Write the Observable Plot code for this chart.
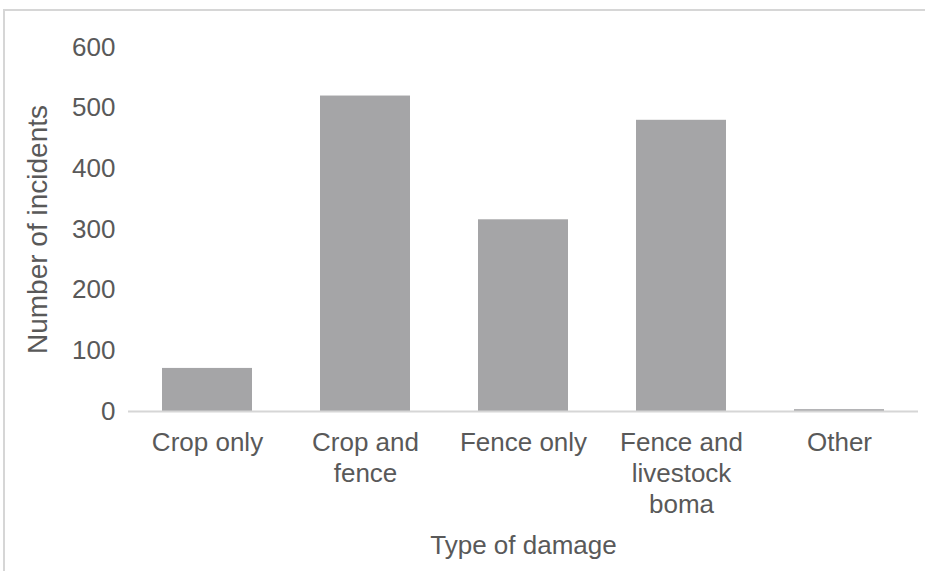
<!DOCTYPE html>
<html>
<head>
<meta charset="utf-8">
<script src="https://cdn.jsdelivr.net/npm/d3@7"></script>
<script src="https://cdn.jsdelivr.net/npm/@observablehq/plot@0.6"></script>
<style>
  html, body { margin: 0; padding: 0; background: #fff; }
  #wrap { position: relative; width: 925px; height: 571px; overflow: hidden; }
  #border { position: absolute; left: 3px; top: 9px; width: 940px; height: 600px;
            border-top: 2px solid #d6d6d6; border-left: 2px solid #d6d6d6; pointer-events: none; }
</style>
</head>
<body>
<div id="wrap"><div id="border"></div></div>
<script>
const categories = ["Crop only", "Crop and fence", "Fence only", "Fence and livestock boma", "Other"];
const tickLabels = ["Crop only", "Crop and\nfence", "Fence only", "Fence and\nlivestock\nboma", "Other"];
const incidents = [71, 520, 316, 480, 3];
const yTicks = [0, 100, 200, 300, 400, 500, 600];
const xTitle = "Type of damage";
const yTitle = "Number of incidents";

const data = categories.map((c, i) => ({category: c, value: incidents[i]}));
const labelOf = new Map(categories.map((c, i) => [c, tickLabels[i]]));

const textColor = "#595959";
const chart = Plot.plot({
  width: 925,
  height: 571,
  marginLeft: 128,
  marginRight: 7,
  marginTop: 47,
  marginBottom: 160,
  style: {fontFamily: "Liberation Sans, Arial, sans-serif", fontSize: "26px", color: textColor, background: "transparent"},
  x: {domain: categories, padding: 0.43, paddingOuter: 0.215, label: null},
  y: {domain: [0, 600], label: null},
  marks: [
    Plot.barY(data, {x: "category", y: "value", fill: "#a5a5a7"}),
    Plot.ruleY([0], {stroke: "#d6d6d6", strokeWidth: 2}),
    Plot.ruleX([0], {frameAnchor: "left", y1: 0, y2: 600, stroke: "#d6d6d6", strokeWidth: 2}),
    Plot.axisY({ticks: yTicks, tickSize: 0, tickPadding: 13, fill: textColor, fontSize: 26, label: null}),
    Plot.axisX({tickSize: 0, tickPadding: 17, fill: textColor, fontSize: 26, lineHeight: 1.2,
      tickFormat: d => labelOf.get(d), label: null}),
    Plot.text([yTitle], {text: d => d, frameAnchor: "left", dx: -90, rotate: -90, textAnchor: "middle",
      lineAnchor: "middle", fill: textColor, fontSize: 28}),
    Plot.text([xTitle], {text: d => d, frameAnchor: "bottom", dy: 134, lineAnchor: "middle", fill: textColor, fontSize: 26})
  ]
});
document.getElementById("wrap").appendChild(chart);
chart.style.position = "absolute";
chart.style.left = "0px";
chart.style.top = "0px";
</script>
</body>
</html>
